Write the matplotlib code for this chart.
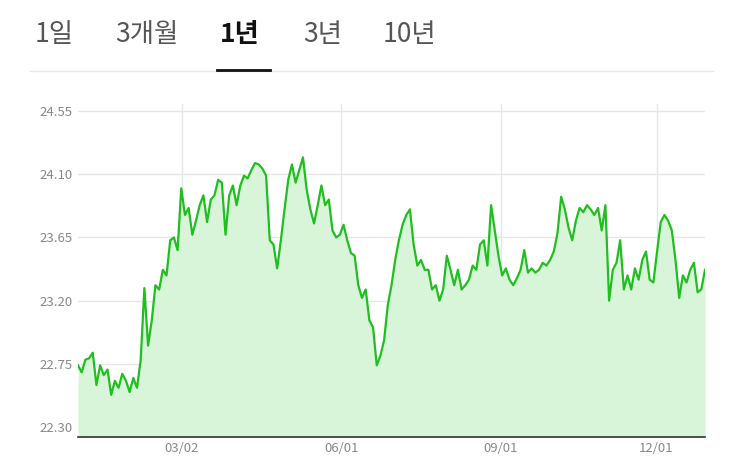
import matplotlib.pyplot as plt
import numpy as np

plt.rcParams['font.family'] = ['Noto Sans CJK KR', 'DejaVu Sans']

LINE = "#1fbf1f"
FILL = "#d9f5d9"
GRID = "#e6e6e6"
TICK = "#888888"

tabs = ["1일", "3개월", "1년", "3년", "10년"]
tab_x = [35, 115, 220, 303, 383]
active_tab = "1년"

values = [
    22.74, 22.69, 22.78, 22.79, 22.83, 22.60, 22.74, 22.67, 22.71, 22.53,
    22.63, 22.58, 22.68, 22.63, 22.55, 22.65, 22.58, 22.78, 23.29, 22.88,
    23.06, 23.31, 23.28, 23.42, 23.38, 23.63, 23.65, 23.56, 24.00, 23.81,
    23.86, 23.67, 23.77, 23.88, 23.95, 23.76, 23.92, 23.95, 24.06, 24.04,
    23.67, 23.95, 24.02, 23.88, 24.02, 24.09, 24.07, 24.13, 24.18, 24.17,
    24.14, 24.09, 23.63, 23.60, 23.43, 23.63, 23.85, 24.06, 24.17, 24.04,
    24.13, 24.22, 23.99, 23.85, 23.75, 23.88, 24.02, 23.88, 23.92, 23.70,
    23.65, 23.67, 23.74, 23.63, 23.54, 23.52, 23.31, 23.22, 23.28, 23.06,
    23.01, 22.74, 22.81, 22.92, 23.17, 23.31, 23.49, 23.63, 23.74, 23.81,
    23.85, 23.60, 23.45, 23.49, 23.42, 23.42, 23.28, 23.31, 23.20, 23.28,
    23.52, 23.42, 23.31, 23.42, 23.28, 23.31, 23.35, 23.45, 23.42, 23.60,
    23.63, 23.45, 23.88, 23.70, 23.52, 23.38, 23.43, 23.35, 23.31, 23.36,
    23.42, 23.56, 23.40, 23.43, 23.40, 23.42, 23.47, 23.45, 23.49, 23.55,
    23.68, 23.94, 23.85, 23.72, 23.63, 23.77, 23.86, 23.83, 23.88, 23.85,
    23.81, 23.86, 23.70, 23.88, 23.20, 23.42, 23.47, 23.63, 23.28, 23.38,
    23.28, 23.43, 23.35, 23.49, 23.55, 23.35, 23.33, 23.55, 23.76, 23.81,
    23.77, 23.70, 23.49, 23.22, 23.38, 23.33, 23.42, 23.47, 23.26, 23.28,
    23.42,
]
y_ticks = [22.30, 22.75, 23.20, 23.65, 24.10, 24.55]
x_ticks = [60, 152, 244, 334]
x_labels = ["03/02", "06/01", "09/01", "12/01"]

days = np.linspace(0, 362, len(values))

fig = plt.figure(figsize=(7.43, 4.71), dpi=100, facecolor="white")
W, H = 743, 471

# tabs
for label, x in zip(tabs, tab_x):
    bold = label == active_tab
    fig.text(x / W, 1 - 34 / H, label, fontsize=19, ha="left", va="center",
             color="#111111" if bold else "#555555",
             fontweight="bold" if bold else "normal")
fig.add_artist(plt.Line2D([30 / W, 713 / W], [1 - 71 / H] * 2, color="#e8e8e8", lw=1))
fig.add_artist(plt.Line2D([217 / W, 270 / W], [1 - 70 / H] * 2, color="#111111", lw=2))

ax = fig.add_axes([78 / W, 1 - 437 / H, 627 / W, 333 / H])
ax.fill_between(days, values, 22.0, color=FILL, lw=0)
ax.plot(days, values, color=LINE, lw=1.6)
ax.set_xlim(0, 362)
ax.set_ylim(22.23, 24.60)
ax.set_yticks(y_ticks)
ax.set_yticklabels([f"{v:.2f}" for v in y_ticks])
ax.set_xticks(x_ticks)
ax.set_xticklabels(x_labels)
ax.tick_params(length=0, colors=TICK, labelsize=9.5)
ax.tick_params(axis="y", pad=4)
ax.grid(color=GRID, lw=1)
ax.set_axisbelow(True)
for s in ["top", "right", "left"]:
    ax.spines[s].set_visible(False)
ax.spines["bottom"].set_color("#333333")
ax.spines["bottom"].set_linewidth(1.2)

fig.savefig("out.png", dpi=100, facecolor="white")
